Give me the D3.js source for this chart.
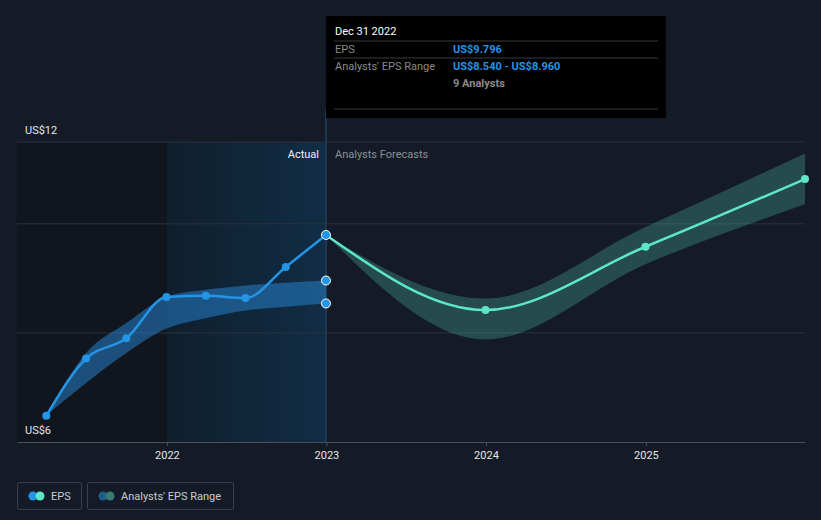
<!DOCTYPE html>
<html>
<head>
<meta charset="utf-8">
<script src="https://cdn.jsdelivr.net/npm/d3@7"></script>
<style>
  body { margin: 0; background: #151b26; }
  svg { display: block; font-family: Roboto, "Noto Sans", sans-serif; }
</style>
</head>
<body>
<div class="canvas"></div>
<script>
// DATA ----------------------------------------------------------------------
const pastDates = ['2021-03-31', '2021-06-30', '2021-09-30', '2021-12-31', '2022-03-31', '2022-06-30', '2022-09-30', '2022-12-31'];
const pastEps = [6.48, 7.53, 7.90, 8.66, 8.68, 8.64, 9.21, 9.796];
const pastRangeLow = [6.48, 7.08, 7.63, 8.08, 8.27, 8.41, 8.48, 8.54];
const pastRangeHigh = [6.48, 7.63, 8.18, 8.66, 8.79, 8.87, 8.92, 8.96];

const forecastDates = ['2022-12-31', '2023-12-31', '2024-12-31', '2025-12-31'];
const forecastEps = [9.796, 8.42, 9.58, 10.82];
const forecastLow = [9.796, 7.88, 9.26, 10.36];
const forecastHigh = [9.796, 8.63, 9.94, 11.29];

const yearTicks = ['2022-01-01', '2023-01-01', '2024-01-01', '2025-01-01'];
const yTickLabels = [{ v: 11.5, label: 'US$12' }, { v: 6, label: 'US$6' }];
const gridValues = [8, 10, 11.5];

// SET UP --------------------------------------------------------------------
const width = 821, height = 520;
const margin = { top: 142, right: 16, bottom: 78, left: 17 };
const parse = d3.timeParse('%Y-%m-%d');

const svg = d3.select('.canvas')
    .append('svg')
        .attr('width', width)
        .attr('height', height);

svg.append('rect').attr('width', width).attr('height', height).attr('fill', '#151b26');

const x = d3.scaleTime()
    .domain([parse('2021-01-23'), parse('2025-12-31')])
    .range([margin.left, width - margin.right]);
const y = d3.scaleLinear()
    .domain([6, 11.5])
    .range([height - margin.bottom, margin.top]);

const past = pastDates.map((d, i) => ({ date: parse(d), eps: pastEps[i], lo: pastRangeLow[i], hi: pastRangeHigh[i] }));
const fut = forecastDates.map((d, i) => ({ date: parse(d), eps: forecastEps[i], lo: forecastLow[i], hi: forecastHigh[i] }));
const today = parse('2022-12-31');

// Background regions
const defs = svg.append('defs');
const grad = defs.append('linearGradient').attr('id', 'hl').attr('x1', 0).attr('x2', 1);
grad.append('stop').attr('offset', 0).attr('stop-color', '#0f1f2e');
grad.append('stop').attr('offset', 1).attr('stop-color', '#112d45');

svg.append('rect')
    .attr('x', x.range()[0])
    .attr('y', y(11.5))
    .attr('width', x(parse('2022-01-01')) - x.range()[0])
    .attr('height', y(6) - y(11.5))
    .attr('fill', '#11151d');
svg.append('rect')
    .attr('x', x(parse('2022-01-01')))
    .attr('y', y(11.5))
    .attr('width', x(today) - x(parse('2022-01-01')))
    .attr('height', y(6) - y(11.5))
    .attr('fill', 'url(#hl)');

// Gridlines
svg.selectAll('.grid').data(gridValues).enter()
    .append('line')
    .attr('x1', x.range()[0]).attr('x2', x.range()[1])
    .attr('y1', d => y(d)).attr('y2', d => y(d))
    .attr('stroke', '#2b323d').attr('stroke-width', 1);

// X axis
const xAxis = d3.axisBottom(x)
    .tickValues(yearTicks.map(parse))
    .tickFormat(d3.timeFormat('%Y'))
    .tickSize(4)
    .tickSizeOuter(0);
const xAxisGroup = svg.append('g')
    .attr('transform', `translate(0, ${y(6)})`)
    .call(xAxis);
xAxisGroup.select('.domain').attr('stroke', '#4a505a');
xAxisGroup.selectAll('.tick line').attr('stroke', '#4a505a');
xAxisGroup.selectAll('text')
    .attr('fill', '#e6e6e6')
    .attr('dy', '0.95em')
    .style('font', '11px Roboto');

// Y labels
svg.selectAll('.ylab').data(yTickLabels).enter()
    .append('text')
    .attr('x', 25)
    .attr('y', d => y(d.v) - 8)
    .text(d => d.label)
    .attr('fill', '#e6e6e6')
    .style('font', '11px Roboto');

// Today line
svg.append('line')
    .attr('x1', x(today)).attr('x2', x(today))
    .attr('y1', 110).attr('y2', y(6))
    .attr('stroke', '#1d4060').attr('stroke-width', 1.5);

svg.append('text')
    .attr('x', x(today) - 7).attr('y', 158)
    .attr('text-anchor', 'end')
    .text('Actual')
    .attr('fill', '#f0f0f0')
    .style('font', '11px Roboto');
svg.append('text')
    .attr('x', x(today) + 9).attr('y', 158)
    .text('Analysts Forecasts')
    .attr('fill', '#8a9099')
    .style('font', '11px Roboto');

// Bands
const area = d3.area()
    .x(d => x(d.date))
    .y0(d => y(d.lo))
    .y1(d => y(d.hi))
    .curve(d3.curveMonotoneX);
svg.append('path').datum(past).attr('d', area)
    .attr('fill', '#2680c8').attr('fill-opacity', 0.55);
svg.append('path').datum(fut).attr('d', area)
    .attr('fill', '#5ee6c8').attr('fill-opacity', 0.24);

// Lines
const line = d3.line()
    .x(d => x(d.date))
    .y(d => y(d.eps))
    .curve(d3.curveMonotoneX);
svg.append('path').datum(fut).attr('d', line)
    .attr('fill', 'none').attr('stroke', '#5ee6c8').attr('stroke-width', 2.5);
svg.append('path').datum(past).attr('d', line)
    .attr('fill', 'none').attr('stroke', '#2394e6').attr('stroke-width', 2.5);

// Points
svg.selectAll('.fpt').data(fut.slice(1)).enter()
    .append('circle')
    .attr('cx', d => x(d.date)).attr('cy', d => y(d.eps))
    .attr('r', 4).attr('fill', '#5ee6c8');
svg.selectAll('.ppt').data(past.slice(0, -1)).enter()
    .append('circle')
    .attr('cx', d => x(d.date)).attr('cy', d => y(d.eps))
    .attr('r', 4).attr('fill', '#2394e6');
const last = past[past.length - 1];
svg.selectAll('.lpt').data([last.eps, last.hi, last.lo]).enter()
    .append('circle')
    .attr('cx', x(last.date)).attr('cy', d => y(d))
    .attr('r', 4.5).attr('fill', '#2394e6')
    .attr('stroke', '#ffffff').attr('stroke-width', 1);

// Tooltip
const tip = svg.append('g').attr('transform', `translate(${x(today)}, 16)`);
tip.append('rect').attr('width', 340).attr('height', 102).attr('fill', '#000000');
tip.selectAll('.sep').data([25, 42, 93]).enter()
    .append('line')
    .attr('x1', 8).attr('x2', 332)
    .attr('y1', d => d).attr('y2', d => d)
    .attr('stroke', '#3a3a3a');
tip.append('text').attr('x', 9).attr('y', 19).text('Dec 31 2022')
    .attr('fill', '#ffffff').style('font', '11px Roboto');
tip.append('text').attr('x', 9).attr('y', 37).text('EPS')
    .attr('fill', '#8a8a8a').style('font', '11px Roboto');
tip.append('text').attr('x', 127).attr('y', 37).text('US$' + last.eps.toFixed(3))
    .attr('fill', '#2394e6').style('font', 'bold 11px Roboto');
tip.append('text').attr('x', 9).attr('y', 54).text("Analysts' EPS Range")
    .attr('fill', '#8a8a8a').style('font', '11px Roboto');
tip.append('text').attr('x', 127).attr('y', 54)
    .text('US$' + last.lo.toFixed(3) + ' - US$' + last.hi.toFixed(3))
    .attr('fill', '#2394e6').style('font', 'bold 11px Roboto');
tip.append('text').attr('x', 127).attr('y', 71).text('9 Analysts')
    .attr('fill', '#8a8a8a').style('font', 'bold 11px Roboto');

// Legend
const legendItems = [
    { label: 'EPS', c1: '#2394e6', c2: '#5ee6c8', w: 64 },
    { label: "Analysts' EPS Range", c1: '#1f5c8c', c2: '#3a7a72', w: 146 }
];
let lx = 17;
legendItems.forEach(item => {
    const g = svg.append('g').attr('transform', `translate(${lx}, 482)`);
    g.append('rect').attr('x', 0.5).attr('y', 0.5).attr('width', item.w).attr('height', 27)
        .attr('rx', 2).attr('fill', 'none').attr('stroke', '#3a404a');
    g.append('circle').attr('cx', 16).attr('cy', 14).attr('r', 4.5).attr('fill', item.c1);
    g.append('circle').attr('cx', 23).attr('cy', 14).attr('r', 4.5).attr('fill', item.c2);
    g.append('text').attr('x', 34).attr('y', 18).text(item.label)
        .attr('fill', '#c8ccd2').style('font', '11px Roboto');
    lx += item.w + 6;
});
</script>
</body>
</html>
